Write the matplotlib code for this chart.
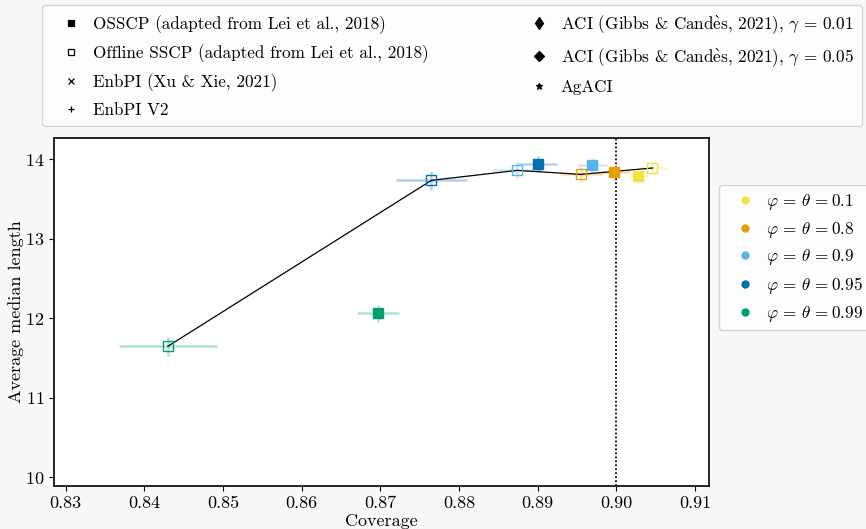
import matplotlib
matplotlib.use("Agg")
import matplotlib.pyplot as plt
from matplotlib.lines import Line2D
import numpy as np

plt.rcParams['font.family'] = ['cmr10', 'DejaVu Serif']
plt.rcParams['mathtext.fontset'] = 'cm'
plt.rcParams['axes.formatter.use_mathtext'] = True

# parameter settings (phi = theta)
params = ["0.1", "0.8", "0.9", "0.95", "0.99"]
colors = ["#F0E442", "#E69F00", "#56B4E9", "#0072B2", "#009E73"]

# OSSCP (filled squares)
osscp_cov = [0.9028, 0.8997, 0.8969, 0.8900, 0.8697]
osscp_len = [13.79, 13.84, 13.925, 13.945, 12.06]
osscp_cov_err = [0.0012, 0.0020, 0.0019, 0.0025, 0.0027]
osscp_len_err = [0.08, 0.08, 0.09, 0.10, 0.11]

# Offline SSCP (open squares)
off_cov = [0.9046, 0.8955, 0.8874, 0.8765, 0.8430]
off_len = [13.89, 13.81, 13.86, 13.735, 11.648]
off_cov_err = [0.0019, 0.0027, 0.0032, 0.0045, 0.0062]
off_len_err = [0.08, 0.09, 0.10, 0.12, 0.12]

target_cov = 0.9

fig = plt.figure(figsize=(8.66, 5.29), dpi=100, facecolor="#f8f8f8")
ax = fig.add_axes([0.0627, 0.0819, 0.819 - 0.0627, 0.7386 - 0.0819])
ax.set_facecolor("white")

order = np.argsort(off_cov)
ax.plot(np.array(off_cov)[order], np.array(off_len)[order], color="black", lw=0.9, zorder=3)

for i, c in enumerate(colors):
    ax.errorbar(off_cov[i], off_len[i], xerr=off_cov_err[i], yerr=off_len_err[i],
                fmt="none", ecolor=c, alpha=0.3, elinewidth=1.8, zorder=2)
    ax.plot(off_cov[i], off_len[i], marker="s", ms=7.5, mfc="none", mec=c, mew=1.0,
            ls="none", zorder=4)
    ax.errorbar(osscp_cov[i], osscp_len[i], xerr=osscp_cov_err[i], yerr=osscp_len_err[i],
                fmt="none", ecolor=c, alpha=0.3, elinewidth=1.8, zorder=2)
    ax.plot(osscp_cov[i], osscp_len[i], marker="s", ms=7.5, color=c, ls="none", zorder=5)

ax.axvline(target_cov, color="black", ls=(0, (1, 1.2)), lw=1.3, zorder=1)

ax.set_xlim(0.82855, 0.91182)
ax.set_ylim(9.894, 14.264)
ax.set_xticks([0.83, 0.84, 0.85, 0.86, 0.87, 0.88, 0.89, 0.90, 0.91])
ax.set_xticklabels(["0.83", "0.84", "0.85", "0.86", "0.87", "0.88", "0.89", "0.90", "0.91"])
ax.set_yticks([10, 11, 12, 13, 14])
ax.tick_params(labelsize=13)
ax.set_xlabel("Coverage", fontsize=13, labelpad=2)
ax.set_ylabel("Average median length", fontsize=13, labelpad=1)
for s in ax.spines.values():
    s.set_linewidth(1.2)

cand = r"Cand$\grave{\mathrm{e}}$s"
method_labels = ["OSSCP (adapted from Lei et al., 2018)",
                 "Offline SSCP (adapted from Lei et al., 2018)",
                 "EnbPI (Xu & Xie, 2021)",
                 "EnbPI V2",
                 "ACI (Gibbs & " + cand + r", 2021), $\gamma$ = 0.01",
                 "ACI (Gibbs & " + cand + r", 2021), $\gamma$ = 0.05",
                 "AgACI"]
method_markers = [("s", "black"), ("s", "none"), ("x", "black"), ("+", "black"),
                  ("d", "black"), ("D", "black"), ("*", "black")]
handles = []
for (m, fc) in method_markers:
    handles.append(Line2D([], [], marker=m, ls="none", color="black", mfc=fc,
                          mec="black", ms=5, mew=0.9))
for h, m in zip(handles, method_markers):
    if m[0] == "d":
        h.set_markersize(6)
leg1 = fig.legend(handles, method_labels, ncol=2, loc="upper left",
                  bbox_to_anchor=(42 / 866, 1 - 5 / 529, 820 / 866, 0.0), mode="expand",
                  borderaxespad=0, fontsize=12.3, frameon=True, labelspacing=0.6,
                  handletextpad=0.02, borderpad=0.5, handlelength=2.45)
leg1.get_frame().set_edgecolor("#cccccc")

handles2 = [Line2D([], [], marker="o", ls="none", color=c, ms=5) for c in colors]
labels2 = [r"$\varphi\,=\,\theta\,=$" + p for p in params]
leg2 = fig.legend(handles2, labels2, loc="upper left",
                  bbox_to_anchor=(719 / 866, 1 - 185 / 529), borderaxespad=0,
                  fontsize=12.3, frameon=True, labelspacing=0.45, handletextpad=0.07,
                  handlelength=2.3, borderpad=0.4)
leg2.get_frame().set_edgecolor("#cccccc")

fig.savefig("out.png", dpi=100, facecolor=fig.get_facecolor())
